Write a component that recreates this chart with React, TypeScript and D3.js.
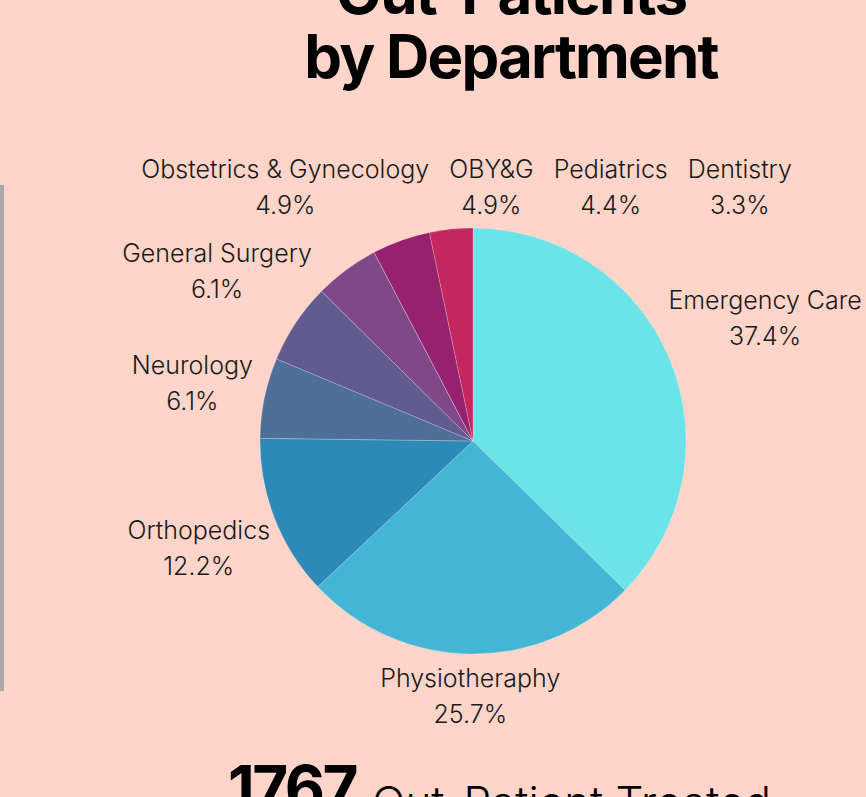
import React, { useMemo } from 'react';
import * as d3 from 'd3';

const WIDTH = 866;
const HEIGHT = 797;
const CX = 473;
const CY = 441;
const RADIUS = 213;
const LABEL_FONT = 25;
const LABEL_OFFSET = 14;

// departments in clockwise order from 12 o'clock
const departments = [
    'Emergency Care',
    'Physiotheraphy',
    'Orthopedics',
    'Neurology',
    'General Surgery',
    'Obstetrics & Gynecology',
    'OBY&G',
    'Pediatrics',
    'Dentistry',
];
const patients = [661, 454, 216, 108, 108, 87, 0, 78, 58];
const shares = ['37.4%', '25.7%', '12.2%', '6.1%', '6.1%', '4.9%', '4.9%', '4.4%', '3.3%'];
const colors = [
    '#6ae4e9',
    '#43b6d6',
    '#2d8ab8',
    '#4d6f99',
    '#625b8f',
    '#7e4889',
    '#7e4889',
    '#96216f',
    '#c4275e',
];
const totalTreated = '1767';

let ctx: CanvasRenderingContext2D | null = null;
function textWidth(s: string) {
    if (!ctx) ctx = document.createElement('canvas').getContext('2d');
    if (!ctx) return s.length * LABEL_FONT * 0.54;
    ctx.font = `300 ${LABEL_FONT}px Inter`;
    return ctx.measureText(s).width;
}

type Label = { name: string; share: string; x: number; y: number; w: number; h: number; pushed: boolean };

function overlaps(a: Label, b: Label) {
    return Math.abs(a.x - b.x) < (a.w + b.w) / 2 + 14 && Math.abs(a.y - b.y) < (a.h + b.h) / 2;
}

export default function App() {
    const pie = d3
        .pie<number>()
        .sort(null)
        .value((d) => d);
    const arcs = pie(patients);
    const arc = d3.arc<d3.PieArcDatum<number>>().innerRadius(0).outerRadius(RADIUS);

    const labels = useMemo(() => {
        const out: Label[] = arcs.map((a, i) => {
            const mid = (a.startAngle + a.endAngle) / 2;
            const sx = Math.sin(mid);
            const cy = Math.cos(mid);
            const w = Math.max(textWidth(departments[i]), textWidth(shares[i]));
            const h = 56;
            const r = RADIUS + LABEL_OFFSET + Math.hypot((sx * w) / 2, (cy * h) / 2);
            return { name: departments[i], share: shares[i], x: CX + r * sx, y: CY - r * cy, w, h, pushed: false };
        });

        // crowded labels get pushed right, past whatever they hit
        for (let i = 1; i < out.length; i++) {
            const cur = out[i];
            for (let j = 0; j < i; j++) {
                const prev = out[j];
                if (overlaps(cur, prev)) {
                    cur.x = prev.x + prev.w / 2 + 20 + cur.w / 2;
                    cur.pushed = true;
                }
            }
        }
        const pushed = out.filter((l) => l.pushed);
        if (pushed.length) {
            const rowY = pushed[pushed.length - 1].y;
            pushed.forEach((l) => (l.y = rowY));
        }
        return out;
    }, []);

    return (
        <svg
            width={WIDTH}
            height={HEIGHT}
            style={{ position: 'absolute', left: 0, top: 0, fontFamily: 'Inter, sans-serif' }}
        >
            <rect width={WIDTH} height={HEIGHT} fill="#ffd5ca" />
            <rect x={0} y={185} width={4} height={506} fill="#a9a9a9" />

            <text x={511} y={14} textAnchor="middle" fontSize={60} fontWeight={700} letterSpacing={-1.8} fill="#000">
                Out-Patients
            </text>
            <text x={511} y={78} textAnchor="middle" fontSize={60} fontWeight={700} letterSpacing={-1.8} fill="#000">
                by Department
            </text>

            <g transform={`translate(${CX},${CY})`}>
                {arcs.map((a, i) => (
                    <path
                        key={departments[i]}
                        d={arc(a) || ''}
                        fill={colors[i]}
                        stroke="rgba(255,255,255,0.35)"
                        strokeWidth={0.6}
                    />
                ))}
            </g>

            {labels.map((l) => (
                <text key={l.name} textAnchor="middle" fontSize={LABEL_FONT} fontWeight={300} fill="#1a1a1a">
                    <tspan x={l.x} y={l.y - 18} dominantBaseline="central">
                        {l.name}
                    </tspan>
                    <tspan x={l.x} y={l.y + 18} dominantBaseline="central">
                        {l.share}
                    </tspan>
                </text>
            ))}

            <text x={228} y={810} fontSize={62} fontWeight={700} letterSpacing={-2.5} fill="#000">
                {totalTreated}
            </text>
            <text x={372} y={818} fontSize={44} fontWeight={300} fill="#000">
                Out-Patient Treated
            </text>
        </svg>
    );
}
